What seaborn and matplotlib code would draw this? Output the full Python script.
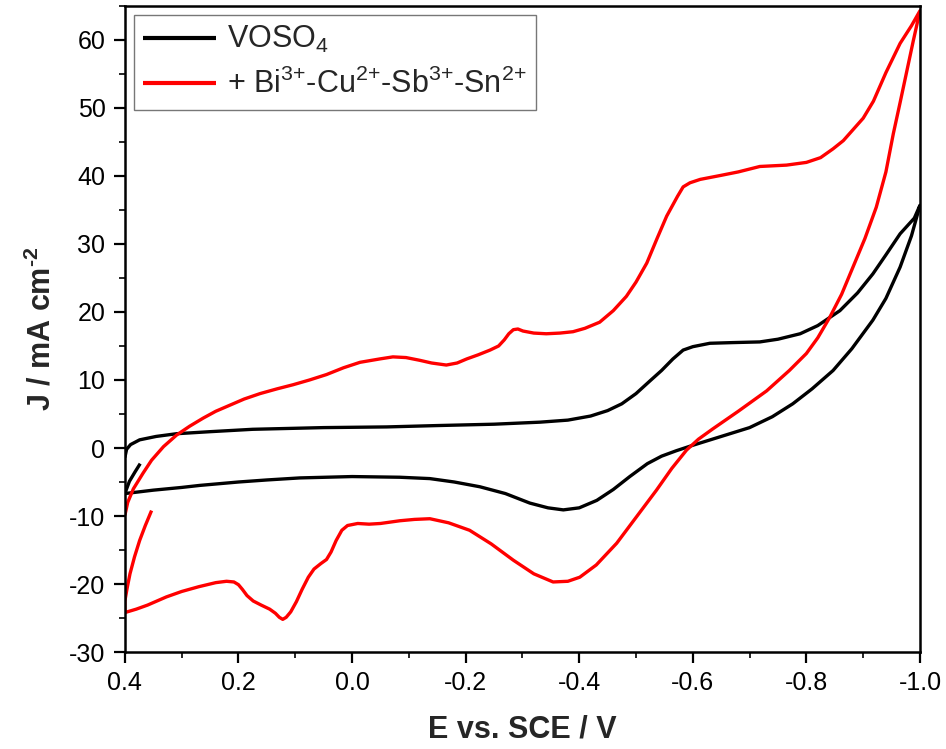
import numpy as np
import pandas as pd
import matplotlib
matplotlib.use('Agg')
import matplotlib.pyplot as plt
import seaborn as sns
from matplotlib.ticker import MultipleLocator, FormatStrFormatter

# VOSO4 alone: short tail, cathodic-labelled branch out to -1.0 V, then back
voso4_E = [0.373, 0.382, 0.392, 0.400,
           0.35, 0.30, 0.268, 0.20, 0.15, 0.092, 0.0, -0.084, -0.137, -0.18,
           -0.225, -0.27, -0.313, -0.345, -0.372, -0.40, -0.431, -0.46, -0.489,
           -0.52, -0.545, -0.571, -0.60, -0.65, -0.70, -0.74, -0.776, -0.81,
           -0.847, -0.88, -0.917, -0.94, -0.965, -0.985, -0.996, -1.0,
           -0.99, -0.965, -0.94, -0.917, -0.89, -0.859, -0.82, -0.789, -0.75,
           -0.718, -0.67, -0.63, -0.60, -0.583, -0.565, -0.545, -0.525, -0.50,
           -0.475, -0.45, -0.42, -0.38, -0.331, -0.25, -0.15, -0.061, 0.05,
           0.175, 0.25, 0.309, 0.345, 0.374, 0.39, 0.397, 0.4]
voso4_J = [-2.3, -3.5, -4.9, -6.7,
           -6.2, -5.8, -5.5, -5.0, -4.7, -4.4, -4.2, -4.3, -4.5, -5.0,
           -5.7, -6.7, -8.1, -8.8, -9.1, -8.8, -7.7, -6.1, -4.2,
           -2.3, -1.2, -0.4, 0.4, 1.7, 3.0, 4.6, 6.5, 8.7,
           11.4, 14.6, 18.8, 22.0, 26.6, 31.2, 34.5, 35.7,
           33.8, 31.5, 28.4, 25.6, 22.8, 20.2, 18.0, 16.8, 16.0,
           15.6, 15.5, 15.4, 14.9, 14.4, 13.1, 11.4, 9.9, 8.0,
           6.5, 5.5, 4.7, 4.1, 3.8, 3.5, 3.3, 3.1, 3.0,
           2.75, 2.4, 2.1, 1.7, 1.2, 0.5, -0.2, -1.4]

# VOSO4 + Bi/Cu/Sb/Sn
mix_E = [0.353, 0.364, 0.374, 0.383, 0.391, 0.396, 0.400, 0.400,
         0.38, 0.36, 0.327, 0.30, 0.27, 0.24, 0.221, 0.208, 0.200, 0.193,
         0.185, 0.174, 0.16, 0.145, 0.135, 0.128, 0.122, 0.116, 0.108, 0.098,
         0.088, 0.077, 0.067, 0.055, 0.045, 0.037, 0.028, 0.018, 0.008, -0.01,
         -0.03, -0.05, -0.084, -0.11, -0.137, -0.17, -0.207, -0.245, -0.284,
         -0.32, -0.354, -0.38, -0.401, -0.43, -0.466, -0.50, -0.536, -0.563,
         -0.589, -0.61, -0.635, -0.68, -0.73, -0.77, -0.80, -0.82, -0.841,
         -0.862, -0.882, -0.903, -0.923, -0.94, -0.953, -0.965, -0.976, -0.988,
         -0.996, -1.0,
         -0.985, -0.965, -0.94, -0.918, -0.90, -0.882, -0.865, -0.847, -0.825,
         -0.80, -0.765, -0.718, -0.68, -0.65, -0.613, -0.595, -0.583, -0.573,
         -0.554, -0.537, -0.519, -0.50, -0.483, -0.46, -0.436, -0.41, -0.389,
         -0.366, -0.342, -0.32, -0.301, -0.292, -0.284, -0.276, -0.268, -0.258,
         -0.243, -0.222, -0.202, -0.185, -0.166, -0.14, -0.119, -0.095, -0.072,
         -0.049, -0.014, 0.015, 0.045, 0.075, 0.104, 0.132, 0.162, 0.19, 0.215,
         0.24, 0.262, 0.286, 0.309, 0.332, 0.353, 0.368, 0.385, 0.395, 0.4]
mix_J = [-9.2, -11.4, -13.6, -16.0, -18.5, -20.6, -22.5, -24.2,
         -23.7, -23.1, -21.9, -21.1, -20.4, -19.8, -19.6, -19.7, -20.1, -20.8,
         -21.7, -22.5, -23.1, -23.7, -24.3, -24.9, -25.2, -24.9, -24.1, -22.6,
         -20.8, -19.0, -17.8, -17.0, -16.4, -15.3, -13.6, -12.1, -11.4, -11.1,
         -11.2, -11.1, -10.7, -10.5, -10.4, -11.0, -12.1, -14.1, -16.5,
         -18.5, -19.7, -19.6, -19.0, -17.2, -14.0, -10.2, -6.2, -3.0,
         -0.3, 1.3, 2.8, 5.4, 8.4, 11.4, 13.9, 16.2, 19.2,
         22.6, 26.6, 30.8, 35.4, 40.6, 46.2, 50.8, 55.1, 59.8,
         62.8, 64.3,
         62.1, 59.5, 55.2, 51.0, 48.5, 46.8, 45.2, 44.0, 42.7,
         42.0, 41.6, 41.4, 40.6, 40.1, 39.5, 39.0, 38.4, 37.0,
         34.1, 30.8, 27.2, 24.4, 22.3, 20.2, 18.5, 17.6, 17.1,
         16.9, 16.8, 16.9, 17.2, 17.5, 17.4, 16.8, 15.9, 15.0,
         14.4, 13.7, 13.1, 12.5, 12.2, 12.5, 12.9, 13.3, 13.4,
         13.1, 12.6, 11.8, 10.8, 10.0, 9.3, 8.7, 8.0, 7.2, 6.3,
         5.4, 4.4, 3.2, 1.9, 0.2, -1.8, -3.7, -6.0, -8.0, -9.9]

labels = ['VOSO$_4$', '+ Bi$^{3{+}}$-Cu$^{2{+}}$-Sb$^{3{+}}$-Sn$^{2{+}}$']
colors = ['#000000', '#ff0000']

df = pd.concat([
    pd.DataFrame({'E': voso4_E, 'J': voso4_J, 'series': labels[0]}),
    pd.DataFrame({'E': mix_E, 'J': mix_J, 'series': labels[1]}),
], ignore_index=True)

# ─── Style ───────────────────────────────────────────────────────────────────
sns.set_style('ticks')
plt.rcParams['font.family'] = ['Liberation Sans', 'DejaVu Sans']
plt.rcParams['mathtext.default'] = 'regular'
plt.rcParams['axes.unicode_minus'] = False

fig = plt.figure(figsize=(9.46, 7.49), dpi=100)
ax = fig.add_axes([0.132, 0.1295, 0.8405, 0.8625])

sns.lineplot(data=df, x='E', y='J', hue='series', palette=colors,
             sort=False, estimator=None, linewidth=2.4, ax=ax)
for ln in ax.get_lines():
    ln.set_solid_joinstyle('round')
    ln.set_solid_capstyle('butt')

ax.set_xlim(0.4, -1.0)
ax.set_ylim(-30, 65)
ax.xaxis.set_major_locator(MultipleLocator(0.2))
ax.xaxis.set_minor_locator(MultipleLocator(0.1))
ax.xaxis.set_major_formatter(FormatStrFormatter('%.1f'))
ax.yaxis.set_major_locator(MultipleLocator(10))
ax.yaxis.set_minor_locator(MultipleLocator(5))

for s in ax.spines.values():
    s.set_visible(True)
    s.set_linewidth(1.8)
    s.set_color('black')
ax.tick_params(which='major', direction='out', length=8, width=1.6,
               labelsize=18, colors='black', pad=6)
ax.tick_params(which='minor', direction='out', length=4, width=1.4)
ax.tick_params(top=False, right=False)

ax.set_xlabel('E vs. SCE / V', fontsize=22, fontweight='bold', labelpad=14)
ax.set_ylabel('J / mA cm$^{\u20102}$', fontsize=22, fontweight='bold', labelpad=8)

leg = ax.legend(loc='upper left', fontsize=22, frameon=True, fancybox=False,
                edgecolor='#555555', handlelength=2.4, borderpad=0.3,
                labelspacing=0.45, handletextpad=0.35, borderaxespad=0,
                bbox_to_anchor=(0.0113, 0.986))
leg.get_frame().set_linewidth(1.0)
for h in leg.get_lines():
    h.set_linewidth(3)

plt.savefig('out.png', dpi=100)
plt.close()
